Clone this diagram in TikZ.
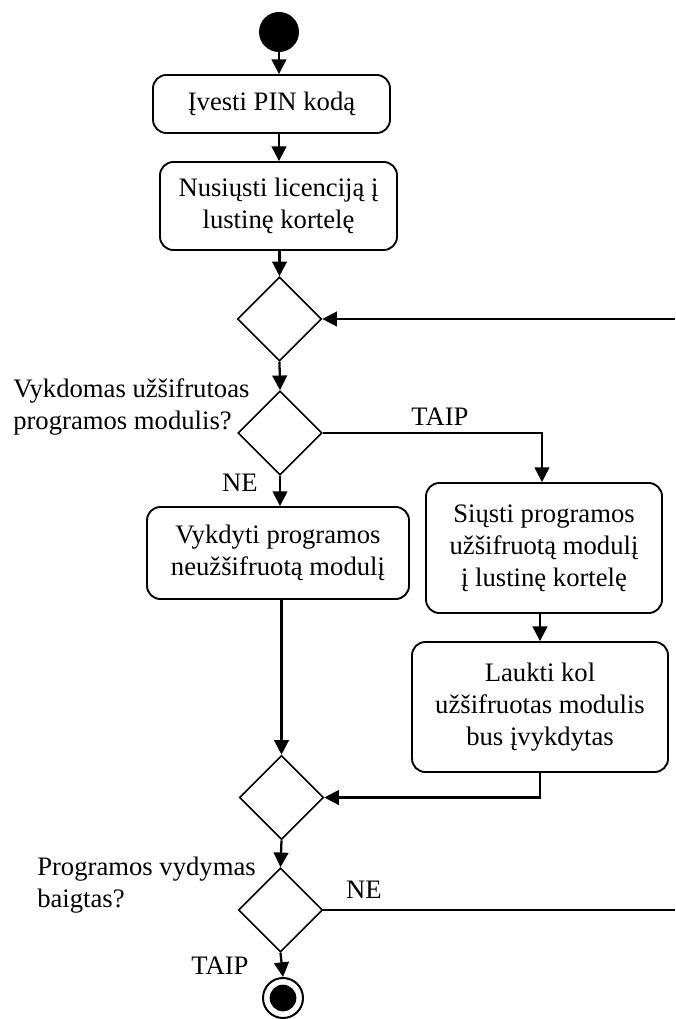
\documentclass[tikz,border=0pt]{standalone}
\usepackage{fontspec}
\setmainfont{Liberation Serif}
\usetikzlibrary{shapes.geometric,arrows.meta}

\begin{document}
\begin{tikzpicture}[x=0.75pt,y=-0.75pt,
  every node/.style={font=\fontsize{20}{24}\selectfont},
  action/.style={draw, line width=1.4pt, rounded corners=10pt, align=center, inner sep=0pt},
  choice/.style={draw, diamond, line width=1.2pt, minimum width=63pt, minimum height=63pt, inner sep=0pt},
  flow/.style={line width=1.7pt, -{Triangle[length=11pt,width=11pt]}},
  plain/.style={line width=1.7pt},
  lbl/.style={inner sep=0pt}
]
\useasboundingbox (0,0) rectangle (675,1019);

% initial and final states
\node[circle, fill, minimum size=30pt, inner sep=0pt] (start) at (279,32) {};
\node[circle, draw, line width=1.5pt, minimum size=30pt, inner sep=0pt] (end) at (283,998) {};
\node[circle, fill, minimum size=20pt, inner sep=0pt] (endin) at (end) {};

% activities
\node[action, minimum width=177.75pt, minimum height=43.5pt] (b1) at (271.5,104) {Įvesti PIN kodą};
\node[action, minimum width=177.75pt, minimum height=66pt] (b2) at (278.5,206) {Nusiųsti licenciją į\\lustinę kortelę};
\node[action, minimum width=196.5pt, minimum height=69pt] (b3) at (278,553) {Vykdyti programos\\neužšifruotą modulį};
\node[action, minimum width=177pt, minimum height=97.5pt] (b4) at (544,548) {Siųsti programos\\užšifruotą modulį\\į lustinę kortelę};
\node[action, minimum width=192pt, minimum height=97.5pt] (b5) at (540,707) {Laukti kol\\užšifruotas modulis\\bus įvykdytas};

% decisions and merges
\node[choice] (d1) at (279.5,319) {};
\node[choice] (d2) at (280,433) {};
\node[choice] (d3) at (281.5,797.5) {};
\node[choice] (d4) at (280.5,910) {};

% free ends at the right border
\coordinate (rin) at (675,319);
\coordinate (rout) at (675,910);
\coordinate (tj) at (542,433);

% connectors
\draw[flow] (start) -- (start |- b1.north);
\draw[flow] (b1.south -| start) -- (b2.north -| start);
\draw[flow] (b2.south -| d1) -- (d1.north);
\draw[flow] (rin) -- (d1.east);
\draw[flow] (d1.south) -- (d2.north);
\draw[flow] (d2.east) -- (tj) -- (tj |- b4.north);
\draw[flow] (d2.south) -- (d2.south |- b3.north);
\draw[flow] (b3.south -| d3.north) -- (d3.north);
\draw[flow] (b4.south -| b5) -- (b5.north);
\draw[flow] (b5.south) |- (d3.east);
\draw[flow] (d3.south) -- (d4.north);
\draw[plain] (d4.east) -- (rout);
\draw[flow] (d4.south) -- (end.north);

% guard texts
\node[lbl, anchor=west, align=left] (q1) at (13,406.5) {Vykdomas užšifrutoas\\programos modulis?};
\node[lbl, anchor=west, align=left] (q2) at (37,885.5) {Programos vydymas\\baigtas?};
\node[lbl] (taip1) at (440,417) {TAIP};
\node[lbl] (ne1) at (240,483) {NE};
\node[lbl] (ne2) at (364,890) {NE};
\node[lbl] (taip2) at (220,966) {TAIP};
\end{tikzpicture}
\end{document}
